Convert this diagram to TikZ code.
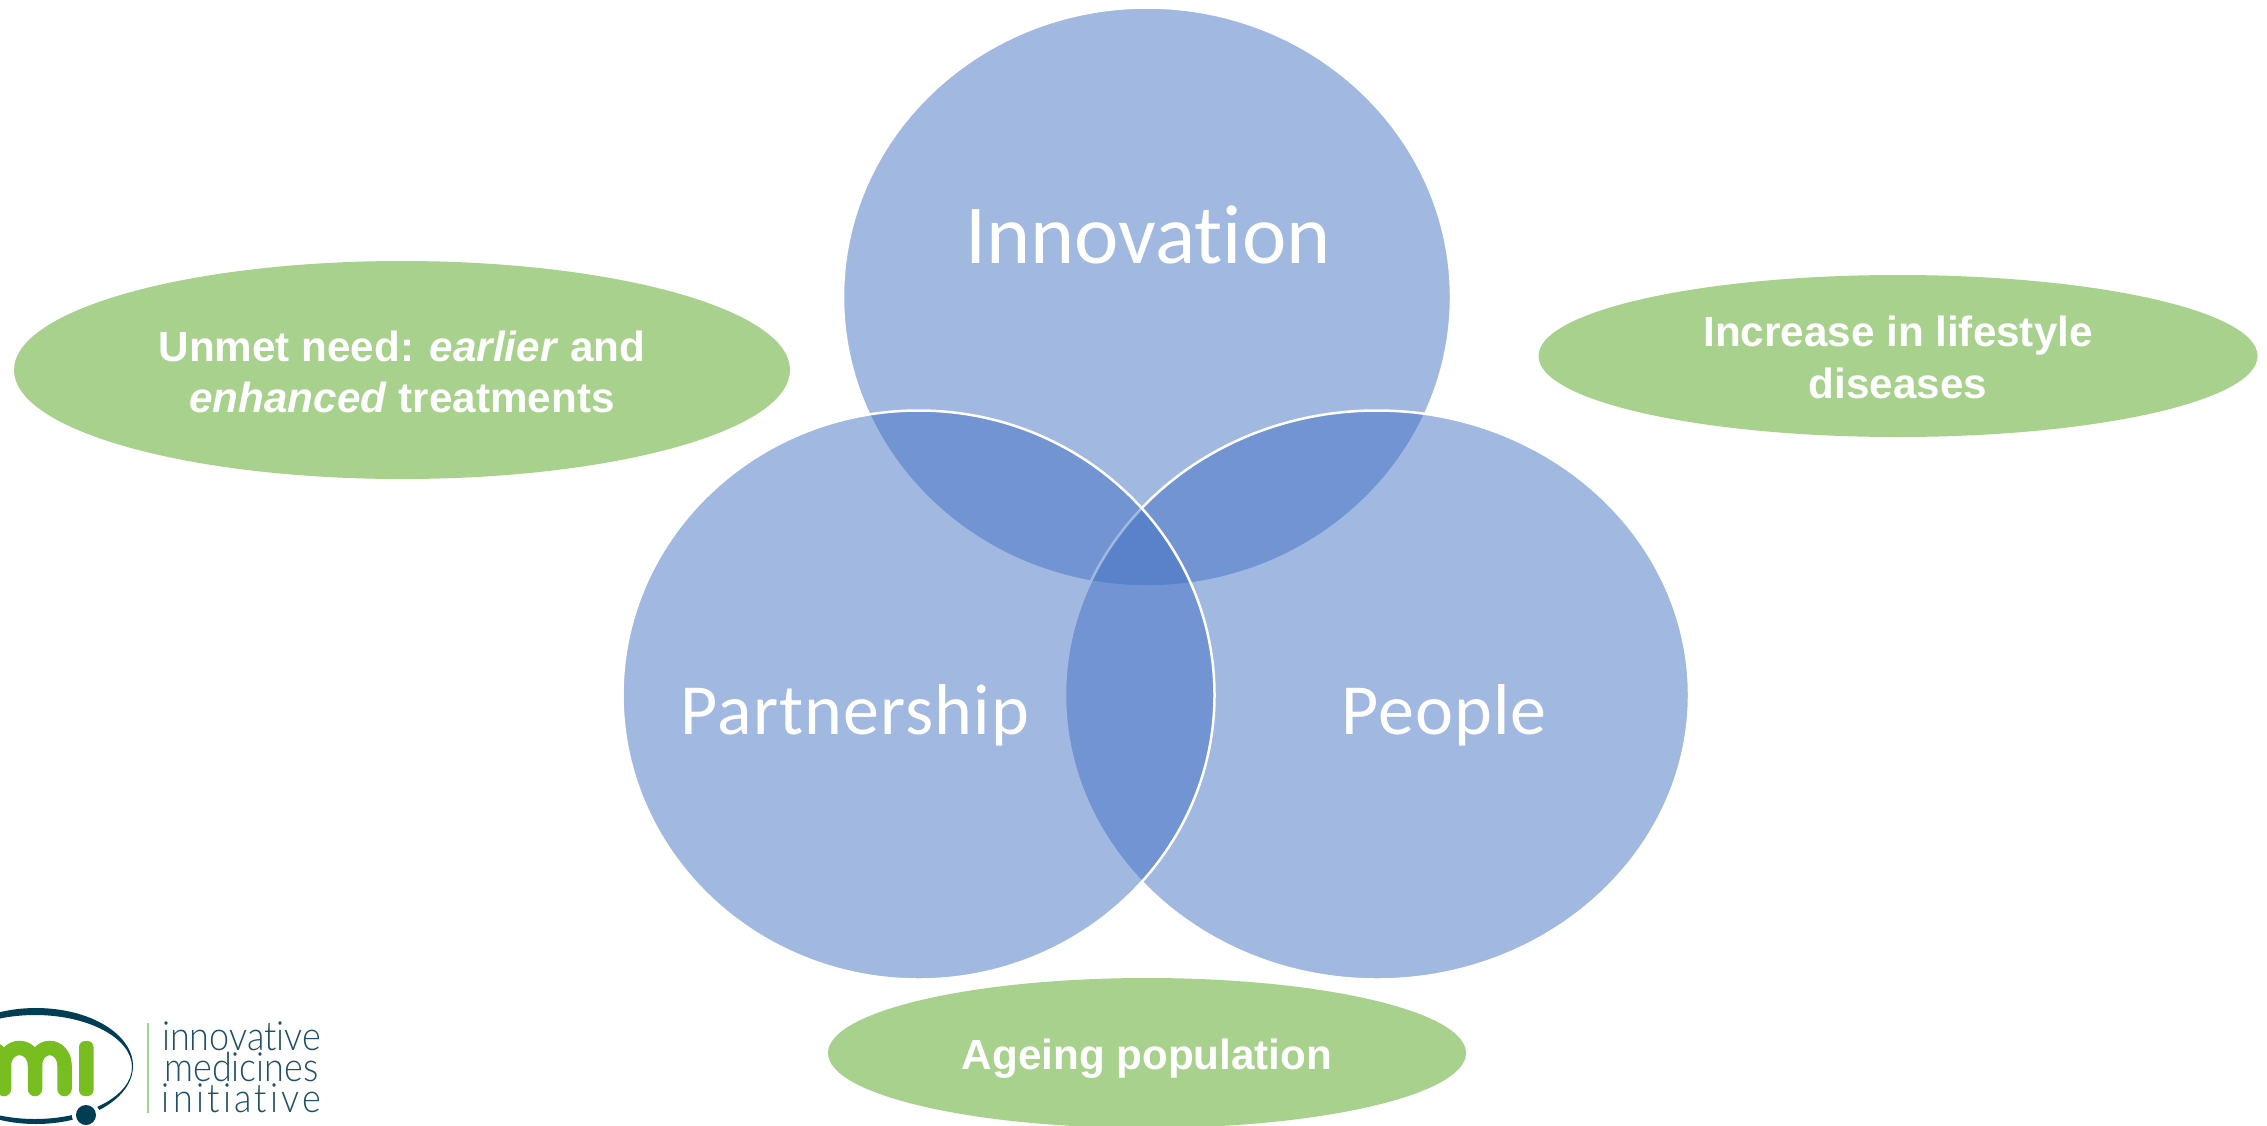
\documentclass[tikz,border=0pt]{standalone}
\usepackage{fontspec}
\setmainfont{Liberation Sans}
\newfontfamily\venfont[Ligatures=NoCommon]{Carlito}
\newfontfamily\logofont[Ligatures=NoCommon]{Lato Light}
\usetikzlibrary{shapes.geometric}
\definecolor{vennblue}{HTML}{4472C4}
\definecolor{oval}{HTML}{A9D18E}
\definecolor{logodark}{HTML}{023E53}
\definecolor{logogreen}{HTML}{78BE20}
\definecolor{logotext}{HTML}{1F5068}
\tikzset{
  venn/.style={ellipse,inner sep=0pt,outer sep=0pt,fill=vennblue,fill opacity=.5,draw=white,draw opacity=1,line width=2.5pt},
  needoval/.style={ellipse,inner sep=0pt,outer sep=0pt,fill=oval},
  venntext/.style={text=white,anchor=base,inner sep=0pt,font=\venfont\fontsize{72}{80}\selectfont\addfontfeature{LetterSpace=1.5}},
  needtext/.style={text=white,anchor=base,inner sep=0pt,font=\bfseries\fontsize{42.2}{50}\selectfont},
  logoword/.style={text=logotext,anchor=base,inner sep=0pt},
  logostroke/.style={draw=logogreen,line width=14.5pt,line cap=round}
}
\begin{document}
\begin{tikzpicture}[x=1pt,y=-1pt]
\clip (0,0) rectangle (2267,1125);
\fill[white] (0,0) rectangle (2267,1125);
% Venn circles, in stacking order
\node[venn,minimum width=608pt,minimum height=579pt] (innovation) at (1147,297) {};
\node[venn,minimum width=624pt,minimum height=569pt] (people) at (1377,695) {};
\node[venn,minimum width=592pt,minimum height=569pt] (partnership) at (918.5,695) {};
\node[venntext,font=\venfont\fontsize{84}{92}\selectfont] (tinnovation) at (1148,263) {Innovation};
\node[venntext] (tpartnership) at (855,734) {Partnership};
\node[venntext] (tpeople) at (1444,734) {People};
% Green ovals
\node[needoval,minimum width=776pt,minimum height=218pt] (unmet) at (402,370) {};
\node[needoval,minimum width=719pt,minimum height=162pt] (lifestyle) at (1898,356) {};
\node[needoval,minimum width=638pt,minimum height=150pt] (ageing) at (1147,1053) {};
\node[needtext] (tunmet1) at (402,361) {Unmet need: \textit{earlier} and};
\node[needtext] (tunmet2) at (402,412) {\textit{enhanced} treatments};
\node[needtext] (tlife1) at (1898,346) {Increase in lifestyle};
\node[needtext] (tlife2) at (1898,398) {diseases};
\node[needtext] (tageing) at (1147,1069) {Ageing population};
% Logo
\fill[logodark,even odd rule] (36,1066) ellipse [x radius=97,y radius=58]
      (35,1067) ellipse [x radius=97,y radius=52];
\fill[white] (86,1115) circle (14);
\fill[logodark] (86,1115) circle (10);
\draw[logostroke] (4,1089) -- (4,1065) arc[start angle=180,end angle=360,x radius=15.5,y radius=17] -- (35,1089);
\draw[logostroke] (35,1065) arc[start angle=180,end angle=360,x radius=14.75,y radius=17] -- (64.5,1089);
\draw[logostroke,line cap=butt] (4,1065) arc[start angle=0,end angle=-180,x radius=15.5,y radius=17];
\fill[logogreen,rounded corners=6pt] (79,1041) rectangle (93.5,1096);
\draw[oval,line width=2pt] (148,1023) -- (148,1113);
\node[logoword,font=\logofont\fontsize{36}{38}\selectfont] (w1) at (241.5,1050) {\scalebox{1}[1.12]{innovative}};
\node[logoword,font=\logofont\fontsize{36}{38}\selectfont] (w2) at (241.5,1081) {\scalebox{1}[1.12]{medicines}};
\node[logoword,font=\logofont\fontsize{36}{38}\selectfont\addfontfeature{LetterSpace=9}] (w3) at (241.5,1112) {\scalebox{1}[1.12]{initiative}};
\end{tikzpicture}
\end{document}
